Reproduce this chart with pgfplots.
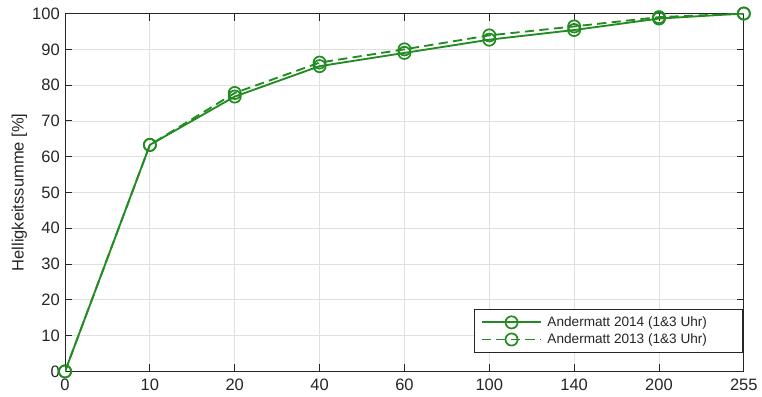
\documentclass[border=0pt]{standalone}
\usepackage{pgfplots}
\pgfplotsset{compat=1.18}
\usepackage{fontspec}
\setmainfont{Liberation Sans}
\definecolor{lgreen}{RGB}{34,139,34}
\definecolor{axgray}{RGB}{38,38,38}
\begin{document}
\begin{tikzpicture}
\begin{axis}[
  scale only axis,
  width=514pt, height=271pt,
  xmin=0, xmax=8, ymin=0, ymax=100,
  xtick={0,1,2,3,4,5,6,7,8},
  xticklabels={0,10,20,40,60,100,140,200,255},
  ytick={0,10,...,100},
  grid=major,
  major grid style={draw=black!12, line width=0.6pt},
  axis line style={draw=axgray, line width=0.7pt},
  tick style={draw=axgray, line width=0.7pt},
  tick align=inside,
  major tick length=5.5pt,
  tick label style={font=\fontsize{12.5}{14}\selectfont, text=axgray},
  xticklabel style={yshift=-2.5pt},
  yticklabel style={xshift=-0.5pt},
  /pgf/number format/assume math mode=true,
  ylabel={Helligkeitssumme [\%]},
  ylabel style={font=\fontsize{12.5}{14}\selectfont, text=axgray, yshift=-3pt},
  legend style={at={(0.999,0.053)}, anchor=south east, draw=axgray, line width=0.7pt,
    font=\fontsize{10.3}{12}\selectfont, text=axgray, inner xsep=5pt, inner ysep=3pt, row sep=0pt},
  legend cell align=left,
  legend image code/.code={\draw[mark repeat=2,mark phase=2,#1] plot coordinates {(0pt,0pt) (22.5pt,0pt) (45pt,0pt)};},
]
\addplot[color=lgreen, line width=1.4pt, mark=o, mark size=4.6pt, mark options={solid, line width=1.3pt}]
coordinates {(0,0) (1,63.3) (2,76.8) (3,85.3) (4,89.0) (5,92.7) (6,95.4) (7,98.6) (8,100)};
\addlegendentry{\hspace*{2pt}Andermatt 2014 (1\&3 Uhr)\hspace*{20pt}}
\addplot[color=lgreen, line width=1.4pt, dashed, dash pattern=on 7pt off 4pt, mark=o, mark size=4.6pt, mark options={solid, line width=1.3pt}]
coordinates {(0,0) (1,63.3) (2,77.8) (3,86.3) (4,90.0) (5,93.9) (6,96.4) (7,99.0) (8,100)};
\addlegendentry{\hspace*{2pt}Andermatt 2013 (1\&3 Uhr)\hspace*{20pt}}
\end{axis}
\path (current bounding box.south west) ++(-5.5pt,-1pt);
\path (current bounding box.north east) ++(0pt,2.5pt);
\end{tikzpicture}
\end{document}
